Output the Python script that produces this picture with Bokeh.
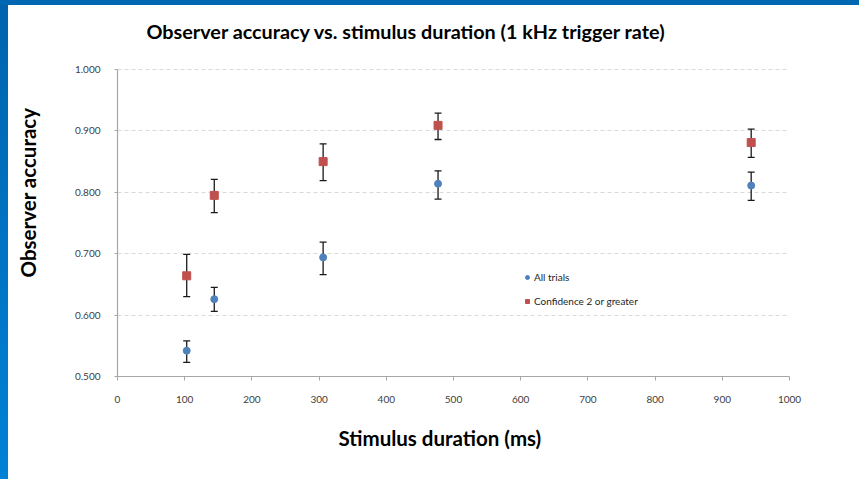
from bokeh.plotting import figure
from bokeh.models import (ColumnDataSource, Whisker, TeeHead, FixedTicker,
                          NumeralTickFormatter, Title, Label, Legend, LegendItem, Range1d)
from bokeh.embed import file_html
from bokeh.resources import INLINE

# ---- data ----
durations = [103, 144, 306, 477, 943]
all_trials = [0.542, 0.626, 0.694, 0.814, 0.811]
all_upper = [0.558, 0.645, 0.719, 0.835, 0.833]
all_lower = [0.523, 0.606, 0.666, 0.789, 0.787]
conf_trials = [0.664, 0.795, 0.850, 0.909, 0.881]
conf_upper = [0.699, 0.821, 0.879, 0.929, 0.903]
conf_lower = [0.630, 0.767, 0.819, 0.886, 0.857]
x_ticks = [0, 100, 200, 300, 400, 500, 600, 700, 800, 900, 1000]
y_ticks = [0.5, 0.6, 0.7, 0.8, 0.9, 1.0]

title_text = "Observer accuracy vs. stimulus duration (1 kHz trigger rate)"
x_label = "Stimulus duration (ms)"
y_label = "Observer accuracy"

FONT = "Lato"
BLUE = "#4F81BD"
RED = "#C0504D"

# the frame reaches up to the top of the canvas so the title can sit inside it
y_top = 1.0 + 61 / 614

p = figure(width=851, height=471, output_backend="svg", toolbar_location=None,
           x_range=Range1d(0, 1000), y_range=Range1d(0.5, y_top),
           min_border_left=109, min_border_right=70, min_border_top=0,
           min_border_bottom=103, background_fill_color="white",
           border_fill_color="white", outline_line_color=None)

src_all = ColumnDataSource(dict(x=durations, y=all_trials, upper=all_upper, lower=all_lower))
src_conf = ColumnDataSource(dict(x=durations, y=conf_trials, upper=conf_upper, lower=conf_lower))

for src in (src_all, src_conf):
    w = Whisker(source=src, base="x", upper="upper", lower="lower",
                line_color="#1a1a1a", line_width=1.3,
                upper_head=TeeHead(size=7, line_color="#1a1a1a", line_width=1.3),
                lower_head=TeeHead(size=7, line_color="#1a1a1a", line_width=1.3))
    p.add_layout(w)

r_all = p.scatter("x", "y", source=src_all, marker="circle", size=7,
                  fill_color=BLUE, line_color=BLUE)
r_conf = p.scatter("x", "y", source=src_conf, marker="square", size=8,
                   fill_color=RED, line_color=RED)

# axes
for ax in (p.xaxis[0], p.yaxis[0]):
    ax.axis_line_color = "#A6A6A6"
    ax.axis_line_width = 1.2
    ax.major_tick_line_color = "#A6A6A6"
    ax.major_tick_in = 0
    ax.minor_tick_line_color = None
    ax.major_label_text_font = FONT
    ax.major_label_text_font_size = "10px"
    ax.major_label_text_color = "#404040"

p.xaxis.ticker = FixedTicker(ticks=x_ticks)
p.xaxis.major_tick_out = 4
p.xaxis.major_label_standoff = 15
p.yaxis.ticker = FixedTicker(ticks=y_ticks)
p.yaxis.formatter = NumeralTickFormatter(format="0.000")
p.yaxis.major_tick_out = 3
p.yaxis.major_label_standoff = 14
p.yaxis.bounds = (0.5, 1.0)

p.yaxis.axis_label = y_label
p.yaxis.axis_label_text_font = FONT
p.yaxis.axis_label_text_font_style = "bold"
p.yaxis.axis_label_text_font_size = "20.5px"
p.yaxis.axis_label_text_color = "#000000"
p.yaxis.axis_label_standoff = 32

p.xgrid.grid_line_color = None
p.ygrid.grid_line_color = "#D9D9D9"
p.ygrid.grid_line_dash = "4 3"
p.ygrid.grid_line_width = 1

# title inside the (extended) frame
p.add_layout(Label(x=430, y=1.0635, text=title_text, text_font=FONT,
                   text_font_style="bold", text_font_size="19.8px",
                   text_color="#000000", text_align="center", text_baseline="middle"))
# x-axis title
p.add_layout(Title(text=x_label, align="left", offset=221, standoff=36,
                   text_font=FONT, text_font_style="bold", text_font_size="20.5px",
                   text_color="#000000"), "below")

legend = Legend(items=[LegendItem(label="All trials", renderers=[r_all]),
                       LegendItem(label="Confidence 2 or greater", renderers=[r_conf])],
                location=(405, 65), glyph_width=10, glyph_height=20,
                label_height=20, spacing=4, padding=0, margin=0,
                label_standoff=2, label_text_font=FONT, label_text_font_size="10px",
                label_text_color="#262626", border_line_color=None,
                background_fill_alpha=0)
p.add_layout(legend, "center")

template = """
{% block postamble %}
<style>
html { height: 100%; background:
  linear-gradient(#0067B2, #0067B2) 0 0 / 100% 5px no-repeat,
  linear-gradient(to bottom, #0063AE, #0082D6) 0 0 / 8px 100% no-repeat,
  #ffffff; }
body { margin: 8px 0 0 8px; padding: 0; background: transparent; }
</style>
{% endblock %}
"""

open("out.html", "w").write(file_html(p, INLINE, template=template))
